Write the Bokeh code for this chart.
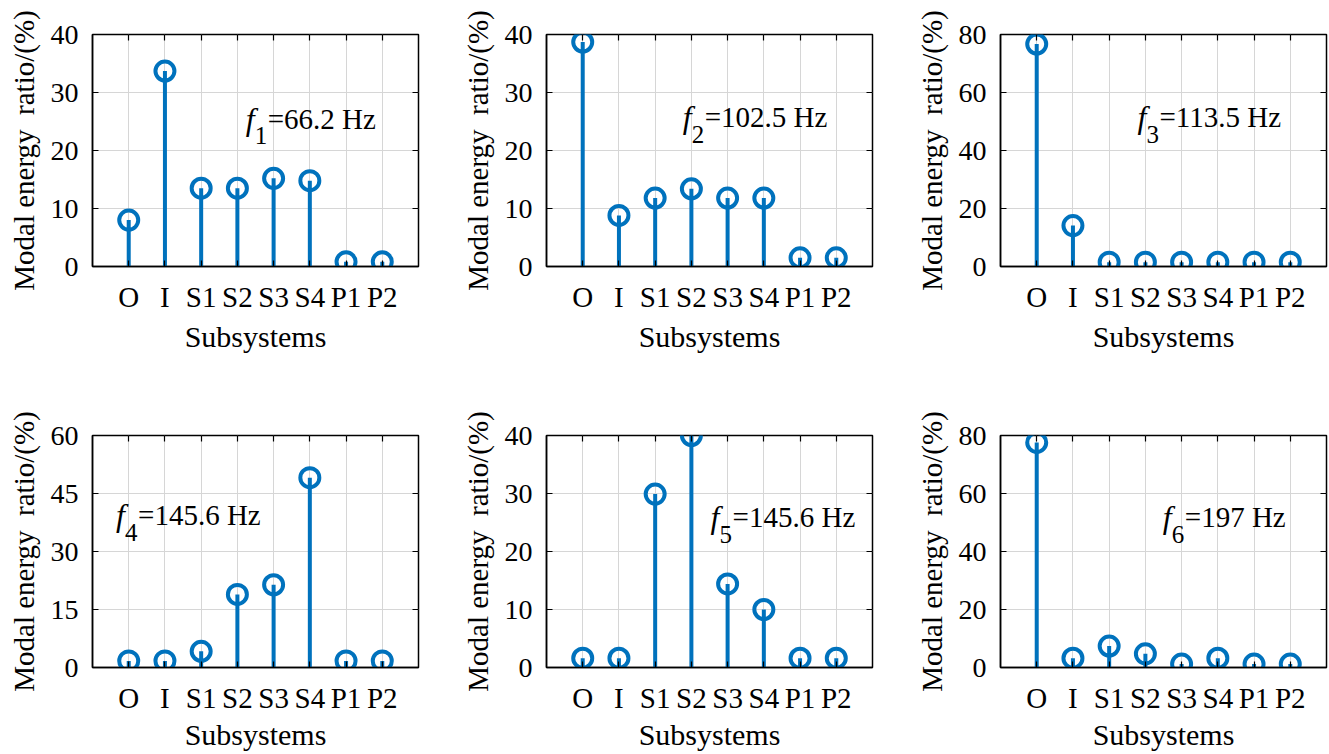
from bokeh.plotting import figure
from bokeh.models import FixedTicker, LinearAxis, Range1d, Label
from bokeh.layouts import column, row
from bokeh.embed import file_html
from bokeh.resources import INLINE

# ---------------- data ----------------
categories = ["O", "I", "S1", "S2", "S3", "S4", "P1", "P2"]
mode1 = [8.0, 33.7, 13.5, 13.5, 15.2, 14.8, 0.8, 0.8]
mode2 = [38.7, 8.8, 11.8, 13.4, 11.8, 11.8, 1.5, 1.5]
mode3 = [76.7, 14.1, 1.5, 1.5, 1.5, 1.5, 1.5, 1.5]
mode4 = [1.7, 1.7, 4.2, 18.9, 21.4, 49.1, 1.7, 1.7]
mode5 = [1.6, 1.6, 29.9, 40.0, 14.4, 10.0, 1.6, 1.6]
mode6 = [77.6, 3.2, 7.4, 4.7, 1.2, 3.2, 1.2, 1.2]
mode_indices = ["1", "2", "3", "4", "5", "6"]
mode_freqs = ["66.2 Hz", "102.5 Hz", "113.5 Hz", "145.6 Hz", "145.6 Hz", "197 Hz"]
y_max = [40, 40, 80, 60, 40, 80]
y_step = [10, 10, 20, 15, 10, 20]
x_label = "Subsystems"
y_label = "Modal energy\u00a0 ratio/(%)"

# ---------------- style ----------------
FONT = "Liberation Serif"
BLUE = "#0072BD"
GRID = "#d6d6d6"
YTICK_FS = "28px"
XTICK_FS = "29px"
XLABEL_FS = "30px"
YLABEL_FS = "29px"
F_FS = "32px"
ANN_FS = "29px"
SUB_FS = "25px"

# annotation anchor (data coords) for each panel
ann_pos = [(4.23, 25.5), (3.76, 25.7), (3.78, 51.5), (0.65, 39.4), (4.53, 25.9), (4.48, 51.8)]

# figure geometry: (width, left, right) per column, (height, top, bottom, xlabel standoff) per row
col_geo = [(454, 92, 36), (454, 92, 36), (420, 92, 2)]
row_geo = [(401, 34, 135, 4), (352, 34, 86, 1)]


def make_panel(k, vals):
    ci, ri = k % 3, k // 3
    w, bl, br = col_geo[ci]
    h, bt, bb, xls = row_geo[ri]
    xs = list(range(1, len(categories) + 1))
    yt = list(range(0, y_max[k] + 1, y_step[k]))
    p = figure(width=w, height=h, output_backend="svg", toolbar_location=None,
               x_range=Range1d(0, len(categories) + 1), y_range=Range1d(0, y_max[k]),
               min_border_left=bl, min_border_right=br, min_border_top=bt, min_border_bottom=bb)
    p.outline_line_color = "black"
    p.outline_line_width = 1.5
    p.background_fill_color = "white"
    p.border_fill_color = "white"

    p.xaxis.ticker = FixedTicker(ticks=xs)
    p.xaxis.major_label_overrides = {x: c for x, c in zip(xs, categories)}
    p.yaxis.ticker = FixedTicker(ticks=yt)
    for ax in (p.xaxis[0], p.yaxis[0]):
        ax.major_tick_in = 6
        ax.major_tick_out = 0
        ax.minor_tick_in = 0
        ax.minor_tick_out = 0
        ax.axis_line_color = "black"
        ax.axis_line_width = 1.5
        ax.major_tick_line_width = 1.2
        ax.major_label_text_font = FONT
        ax.major_label_text_color = "black"
        ax.axis_label_text_font = FONT
        ax.axis_label_text_font_style = "normal"
        ax.axis_label_text_color = "black"
    p.xaxis.axis_label_text_font_size = XLABEL_FS
    p.yaxis.axis_label_text_font_size = YLABEL_FS
    p.xaxis.major_label_text_font_size = XTICK_FS
    p.yaxis.major_label_text_font_size = YTICK_FS
    p.xaxis.axis_label = x_label
    p.yaxis.axis_label = y_label
    p.xaxis.major_label_standoff = 14
    p.xaxis.axis_label_standoff = xls
    p.yaxis.major_label_standoff = 14
    p.yaxis.axis_label_standoff = 8

    for loc, tk in (("right", yt), ("above", xs)):
        ax = LinearAxis(ticker=FixedTicker(ticks=tk), major_label_text_font_size="1px",
                        major_label_text_color=None,
                        major_label_standoff=0, major_tick_in=6, major_tick_out=0,
                        minor_tick_in=0, minor_tick_out=0, axis_line_color=None,
                        major_tick_line_width=1.2)
        p.add_layout(ax, loc)

    p.xgrid.grid_line_color = GRID
    p.ygrid.grid_line_color = GRID
    p.xgrid.grid_line_width = 1
    p.ygrid.grid_line_width = 1

    p.segment(x0=xs, y0=[0] * len(xs), x1=xs, y1=vals, line_color=BLUE, line_width=4)
    p.scatter(xs, vals, marker="circle", size=19, fill_color=None,
              line_color=BLUE, line_width=4)

    ax_, ay_ = ann_pos[k]
    common = dict(x=ax_, y=ay_, text_font=FONT, text_color="black", text_baseline="alphabetic")
    p.add_layout(Label(text="f", text_font_style="italic", text_font_size=F_FS, **common))
    p.add_layout(Label(text=mode_indices[k], x_offset=9, y_offset=-17,
                       text_font_size=SUB_FS, **common))
    p.add_layout(Label(text="=" + mode_freqs[k], x_offset=22, text_font_size=ANN_FS, **common))
    return p


panels = [make_panel(k, v) for k, v in enumerate([mode1, mode2, mode3, mode4, mode5, mode6])]
layout = column(row(*panels[:3], spacing=0), row(*panels[3:], spacing=0), spacing=0)

open("out.html", "w").write(file_html(layout, INLINE))
